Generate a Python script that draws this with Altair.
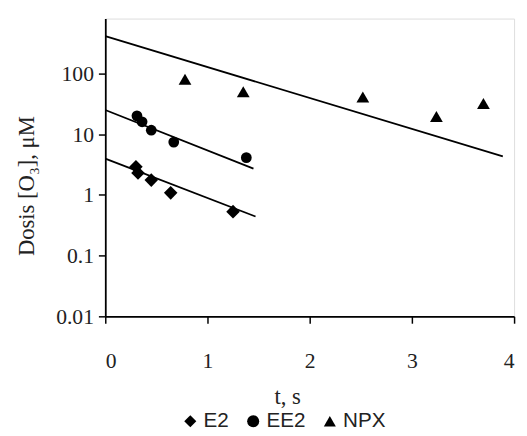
import altair as alt
import pandas as pd

series_names = ["E2", "EE2", "NPX"]
series_shapes = ["diamond", "circle", "triangle-up"]
series_sizes = [190, 120, 169]

# measured points
e2_t = [0.30, 0.32, 0.45, 0.64, 1.25]
e2_dose = [2.9, 2.3, 1.75, 1.08, 0.53]
ee2_t = [0.31, 0.36, 0.45, 0.67, 1.38]
ee2_dose = [20, 16, 11.6, 7.4, 4.1]
npx_t = [0.78, 1.35, 2.52, 3.24, 3.70]
npx_dose = [80, 50, 41, 19.5, 32]

# fitted trend lines (start / end)
e2_fit_t = [0.0, 1.47]
e2_fit_dose = [3.95, 0.44]
ee2_fit_t = [0.0, 1.45]
ee2_fit_dose = [25, 2.7]
npx_fit_t = [0.0, 3.89]
npx_fit_dose = [410, 4.3]

x_ticks = [0, 1, 2, 3, 4]
y_ticks = [0.01, 0.1, 1, 10, 100]

points = pd.DataFrame({
    "series": ["E2"] * len(e2_t) + ["EE2"] * len(ee2_t) + ["NPX"] * len(npx_t),
    "t": e2_t + ee2_t + npx_t,
    "dose": e2_dose + ee2_dose + npx_dose,
})
lines = pd.DataFrame({
    "series": ["E2"] * 2 + ["EE2"] * 2 + ["NPX"] * 2,
    "t": e2_fit_t + ee2_fit_t + npx_fit_t,
    "dose": e2_fit_dose + ee2_fit_dose + npx_fit_dose,
})

serif = "Liberation Serif"
sans = "Liberation Sans"

x = alt.X(
    "t:Q",
    scale=alt.Scale(domain=[0, 4], nice=False),
    axis=alt.Axis(
        values=x_ticks, title="t, s", grid=False,
        labelFont=serif, labelFontSize=22, labelColor="#222",
        labelPadding=28, tickSize=7, tickColor="black", tickWidth=1.5,
        domainColor="black", domainWidth=1.8,
        titleFont=serif, titleFontSize=23, titleFontWeight="normal", titleColor="#222",
        titleX=185, titleY=89, titleBaseline="alphabetic", titleAlign="center",
    ),
)
y = alt.Y(
    "dose:Q",
    scale=alt.Scale(type="log", domain=[0.01, 800], nice=False),
    axis=alt.Axis(
        values=y_ticks, title="Dosis [O₃], μM", grid=False,
        labelExpr="format(datum.value, '~g')",
        labelFont=serif, labelFontSize=22, labelColor="#222",
        labelPadding=5, tickSize=7, tickColor="black", tickWidth=1.5,
        domainColor="black", domainWidth=1.8,
        titleFont=serif, titleFontSize=23, titleFontWeight="normal", titleColor="#222",
        titleX=-80, titleY=170, titleBaseline="middle", titleAlign="center", titleAngle=-90,
    ),
)

line_layer = alt.Chart(lines).mark_line(color="black", strokeWidth=1.8).encode(
    x=x, y=y, detail="series:N"
)

shape_enc = alt.Shape(
    "series:N",
    scale=alt.Scale(domain=series_names, range=series_shapes),
    legend=alt.Legend(
        title=None, orient="none", direction="horizontal",
        legendX=76, legendY=399,
        labelFont=sans, labelFontSize=21, labelColor="#222",
        symbolFillColor="black", symbolStrokeColor="black",
        symbolSize=150, labelOffset=3, columnPadding=14,
    ),
)

point_layers = []
for name, sz in zip(series_names, series_sizes):
    point_layers.append(
        alt.Chart(points).transform_filter(alt.datum.series == name)
        .mark_point(filled=True, color="black", opacity=1, size=sz)
        .encode(x=x, y=y, shape=shape_enc)
    )

chart = alt.layer(line_layer, *point_layers).properties(
    width=416,
    height=303,
    autosize=alt.AutoSizeParams(type="none"),
    padding={"left": 99, "top": 7, "right": 5, "bottom": 118},
).configure_view(stroke=None).configure(background="white")

chart.save("out.html", embed_options={"renderer": "svg", "actions": False})
